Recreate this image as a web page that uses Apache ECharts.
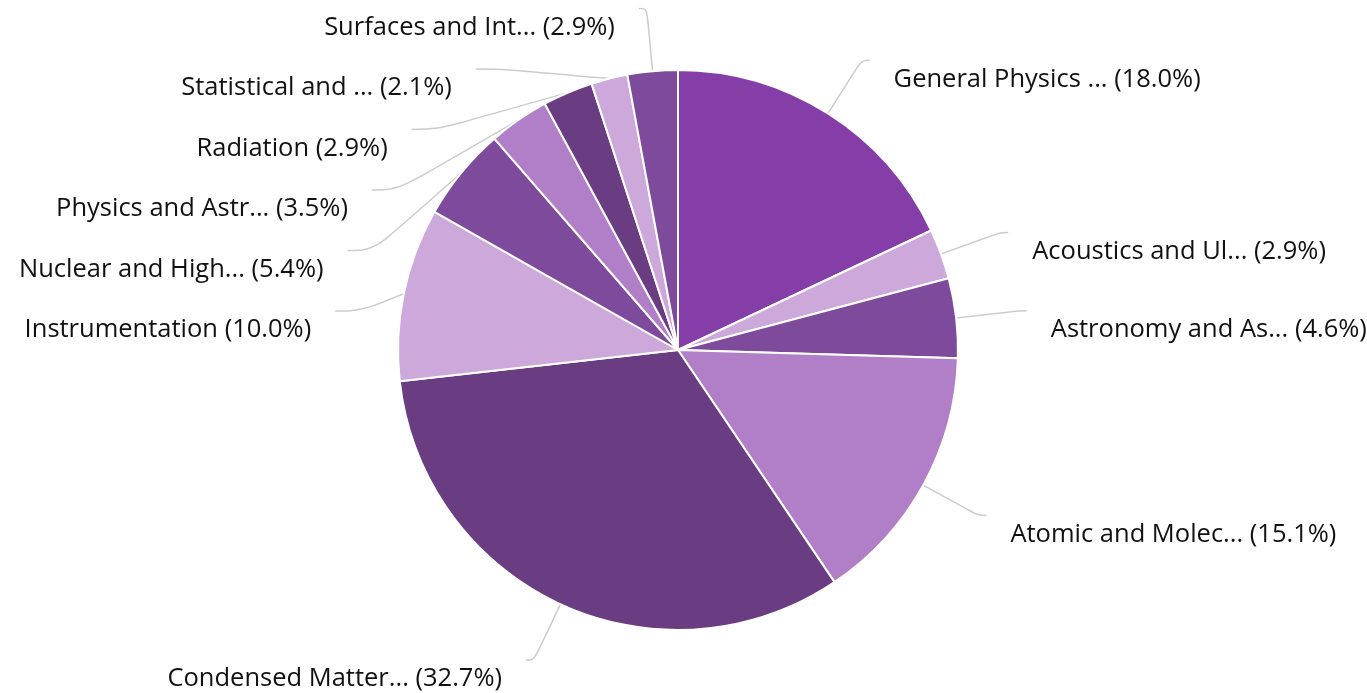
<!DOCTYPE html>
<html><head><meta charset="utf-8">
<script src="https://cdn.jsdelivr.net/npm/echarts@6/dist/echarts.min.js"></script>
<style>html,body{margin:0;padding:0;background:#fff;overflow:hidden;width:1367px;height:693px}#c{position:absolute;left:0;top:-40px;width:1367px;height:733px}</style>
</head><body><div id="c"></div>
<script>
const categories = [
  'General Physics ...', 'Acoustics and Ul...', 'Astronomy and As...', 'Atomic and Molec...',
  'Condensed Matter...', 'Instrumentation', 'Nuclear and High...', 'Physics and Astr...',
  'Radiation', 'Statistical and ...', 'Surfaces and Int...'
];
const values = [18.0, 2.9, 4.6, 15.1, 32.7, 10.0, 5.4, 3.5, 2.9, 2.1, 2.9];
const colors = ['#853ea8', '#cda9db', '#7e4a9b', '#b17fc8', '#6a3c82', '#cda9db', '#7e4a9b', '#b17fc8', '#6a3c82', '#cda9db', '#7e4a9b'];
const stackedLeft = ['Instrumentation', 'Nuclear and High...', 'Physics and Astr...', 'Radiation', 'Statistical and ...'];

const chart = echarts.init(document.getElementById('c'));
chart.setOption({
  animation: false,
  series: [{
    type: 'pie',
    center: [678, 390],
    radius: 280,
    startAngle: 90,
    clockwise: true,
    data: categories.map((n, i) => {
      const d = { name: n, value: values[i], itemStyle: { color: colors[i] } };
      if (stackedLeft.includes(n)) d.labelLine = { length2: 26 };
      return d;
    }),
    itemStyle: { borderColor: '#fff', borderWidth: 2 },
    label: {
      show: true,
      formatter: p => '{e| }\n{t|' + p.name + ' (' + p.value.toFixed(1) + '%)}',
      overflow: 'none',
      fontFamily: 'Open Sans',
      fontSize: 25.5,
      color: '#111',
      distanceToLabelLine: 24,
      rich: {
        e: { fontSize: 10, lineHeight: 38 },
        t: { fontFamily: 'Open Sans', fontSize: 25.5, lineHeight: 43, color: '#111' }
      }
    },
    labelLine: {
      show: true,
      length: 63,
      length2: 8,
      smooth: 0.4,
      lineStyle: { color: '#cccccc', width: 1.5 }
    }
  }]
});
</script></body></html>
